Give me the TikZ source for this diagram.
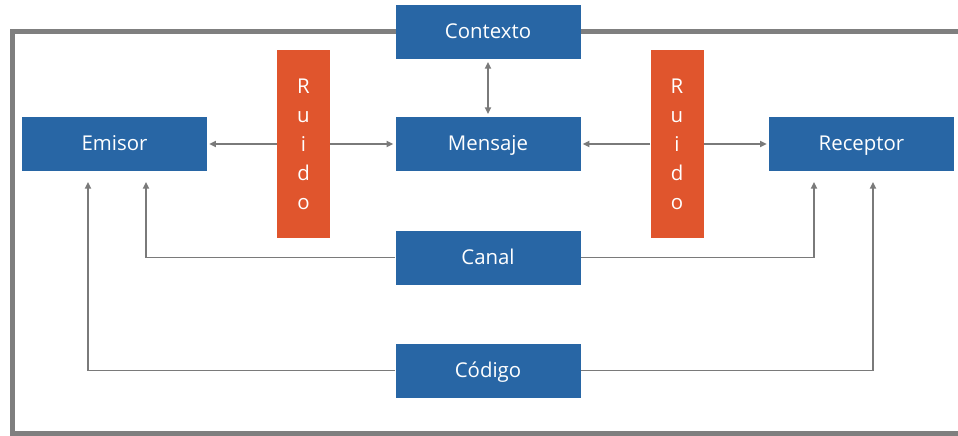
\documentclass[tikz,border=0pt]{standalone}
\usepackage{fontspec}
\setmainfont{Open Sans}
\usetikzlibrary{arrows.meta}
\definecolor{boxblue}{HTML}{2866A5}
\definecolor{noiseorange}{HTML}{E0552D}
\definecolor{framegray}{HTML}{7F7F7F}
\definecolor{linegray}{HTML}{7A7A7A}
\begin{document}
\begin{tikzpicture}[x=0.75pt,y=-0.75pt,
  bluebox/.style={fill=boxblue,text=white,minimum width=138.75pt,minimum height=40.5pt,inner sep=0pt,text height=12.5pt,text depth=2.5pt,font=\fontsize{15.3}{18}\selectfont},
  noisebox/.style={fill=noiseorange,text=white,minimum width=39.75pt,minimum height=141pt,inner sep=0pt,font=\fontsize{15.3}{21.75}\selectfont,align=center},
  conn/.style={draw=linegray,line width=1.4pt,-{Triangle[length=5pt,width=4.5pt]}},
  dconn/.style={draw=linegray,line width=1.4pt,{Triangle[length=5pt,width=4.5pt]}-{Triangle[length=5pt,width=4.5pt]}}
]
\useasboundingbox (0,0) rectangle (958,436);
\fill[white] (0,0) rectangle (958,436);
\draw[framegray,line width=3.75pt] (962,31) -- (12,31) -- (12,433) -- (962,433);

\node[bluebox] (contexto) at (488,32) {Contexto};
\node[bluebox] (emisor) at (114.5,144) {Emisor};
\node[bluebox] (mensaje) at (488,144) {Mensaje};
\node[bluebox] (receptor) at (861.5,144) {Receptor};
\node[bluebox] (canal) at (488,257.5) {Canal};
\node[bluebox] (codigo) at (488,370.5) {Código};
\node[noisebox] (ruidoA) at (303.5,144) {R\\u\\i\\d\\o};
\node[noisebox] (ruidoB) at (677,144) {R\\u\\i\\d\\o};

\coordinate (ecanal) at (146,182);
\coordinate (ecodigo) at (88,182);
\coordinate (rcanal) at (814,182);
\coordinate (rcodigo) at (873,182);

\draw[conn,shorten >=1.5pt] (ruidoA.west) -- (emisor.east);
\draw[conn,shorten >=1.5pt] (ruidoA.east) -- (mensaje.west);
\draw[conn,shorten >=1.5pt] (ruidoB.west) -- (mensaje.east);
\draw[conn,shorten >=1.5pt] (ruidoB.east) -- (receptor.west);
\draw[dconn,shorten >=2pt,shorten <=2pt] (contexto.south) -- (mensaje.north);

\draw[conn] (canal.west) -| (ecanal);
\draw[conn] (canal.east) -| (rcanal);
\draw[conn] (codigo.west) -| (ecodigo);
\draw[conn] (codigo.east) -| (rcodigo);
\end{tikzpicture}
\end{document}
